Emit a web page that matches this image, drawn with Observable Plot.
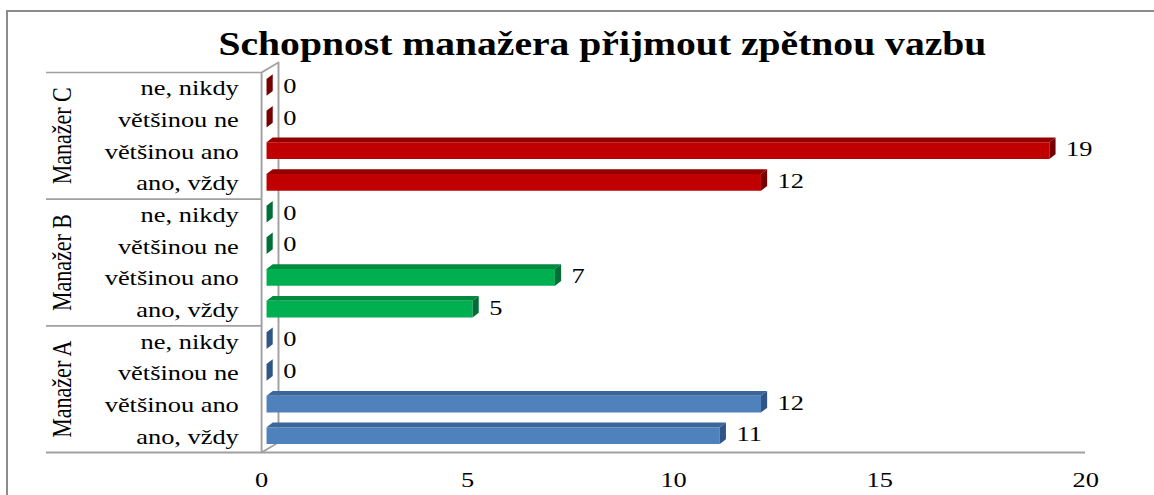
<!DOCTYPE html>
<html>
<head>
<meta charset="utf-8">
<script src="https://cdn.jsdelivr.net/npm/d3@7"></script>
<script src="https://cdn.jsdelivr.net/npm/@observablehq/plot@0.6"></script>
<style>
  html, body { margin: 0; padding: 0; background: #ffffff; }
  #page { position: relative; width: 1154px; height: 495px; overflow: hidden; background: #ffffff; }
  #frame { position: absolute; left: 6px; top: 10px; width: 2000px; height: 1000px;
           border-left: 2px solid #8c8c8c; border-top: 2px solid #8c8c8c; }
  #stretch { position: absolute; left: 0; top: 0; width: 962px; height: 495px;
             transform: scaleX(1.2); transform-origin: 0 0; }
  #title { position: absolute; left: 2px; width: 1000px; top: 28px; text-align: center;
           font-family: "Liberation Serif", "Times New Roman", serif; font-weight: bold;
           font-size: 33px; line-height: 33px; color: #000; white-space: nowrap; }
  #chart { position: absolute; left: 0; top: 0; }
</style>
</head>
<body>
<div id="page">
  <div id="frame"></div>
  <div id="stretch">
    <div id="chart"></div>
    <div id="title">Schopnost manažera přijmout zpětnou vazbu</div>
  </div>
</div>
<script>
// ---- data ----
const managers = ["Manažer C", "Manažer B", "Manažer A"];
const answers = ["ne, nikdy", "většinou ne", "většinou ano", "ano, vždy"];
const valuesC = [0, 0, 19, 12];
const valuesB = [0, 0, 7, 5];
const valuesA = [0, 0, 12, 11];
const frontColors = ["#C00000", "#00B050", "#4F81BD"];
const topColors = ["#940000", "#008A3E", "#3B6699"];
const sideColors = ["#760000", "#006E36", "#2E5585"];
const xTicks = [0, 5, 10, 15, 20];

// ---- 3D styling constants (in scale units) ----
const FX = 0.12, FY = -0.03, HH = 0.265, DX = 0.15, DY = 0.15;
const WX = 0.41, WY = 0.32;

const seriesValues = [valuesC, valuesB, valuesA];
const rows = managers.flatMap((m, g) =>
  answers.map((a, j) => ({manager: m, answer: a, value: seriesValues[g][j], i: g * answers.length + j, g}))
);

function poly(key, fill, pts) {
  return pts.map(([x, y]) => ({key, fill, x, y}));
}
const faces = rows.flatMap(r => {
  const x0 = FX, x1 = r.value + FX, yt = r.i + FY - HH, yb = r.i + FY + HH;
  return [
    ...poly("t" + r.i, topColors[r.g], [[x0, yt], [x0 + DX, yt - DY], [x1 + DX, yt - DY], [x1, yt]]),
    ...poly("f" + r.i, frontColors[r.g], [[x0, yt], [x1, yt], [x1, yb], [x0, yb]]),
    ...poly("s" + r.i, sideColors[r.g], [[x1, yt], [x1 + DX, yt - DY], [x1 + DX, yb - DY], [x1, yb]])
  ];
});

const nRows = rows.length;
const yTop = -0.5, yBottom = nRows - 0.5;
const wall = [
  {x: 0, y: yBottom}, {x: 0, y: yTop}, {x: WX, y: yTop - WY}, {x: WX, y: yBottom - WY}, {x: 0, y: yBottom}
];
const groupBounds = managers.map((m, g) => g * answers.length - 0.5); // top line + separators
const groupCenters = managers.map((m, g) => ({manager: m, y: g * answers.length + (answers.length - 1) / 2}));

const font = "'Liberation Serif', 'Times New Roman', serif";
const gray = "#a0a0a0";

const chart = Plot.plot({
  width: 962,
  height: 495,
  marginLeft: 217.5,
  marginRight: 57.8,
  marginTop: 72,
  marginBottom: 43,
  x: {domain: [0, 20], ticks: xTicks, tickSize: 0, tickPadding: 19, label: null, tickFormat: d => String(d)},
  y: {domain: [yBottom, yTop], axis: null},
  color: {type: "identity"},
  style: {fontFamily: font, fontSize: "22px", color: "#000", background: "transparent", overflow: "visible"},
  marks: [
    // label box lines (top + group separators)
    Plot.ruleY(groupBounds, {x1: 0, x2: 0, insetLeft: -179.2, stroke: gray, strokeWidth: 1.6}),
    // floor line incl. label box bottom
    Plot.ruleY([yBottom], {x1: 0, x2: 20, insetLeft: -179.2, stroke: gray, strokeWidth: 1.8}),
    // 3D wall
    Plot.line(wall, {x: "x", y: "y", stroke: gray, strokeWidth: 1.6, fill: "none"}),
    // bars (3D faces)
    Plot.line(faces, {x: "x", y: "y", z: "key", fill: "fill", stroke: "none"}),
    // value labels
    Plot.text(rows, {x: "value", y: "i", text: d => String(d.value), textAnchor: "start", dx: 18, dy: -2.5, fill: "#000"}),
    // category labels
    Plot.text(rows, {x: 0, y: "i", text: "answer", textAnchor: "end", dx: -19, fill: "#000"}),
    // manager labels
    Plot.text(groupCenters, {x: 0, y: "y", text: "manager", rotate: -90, dx: -165.8, fill: "#000"})
  ]
});
document.getElementById("chart").appendChild(chart);
</script>
</body>
</html>
